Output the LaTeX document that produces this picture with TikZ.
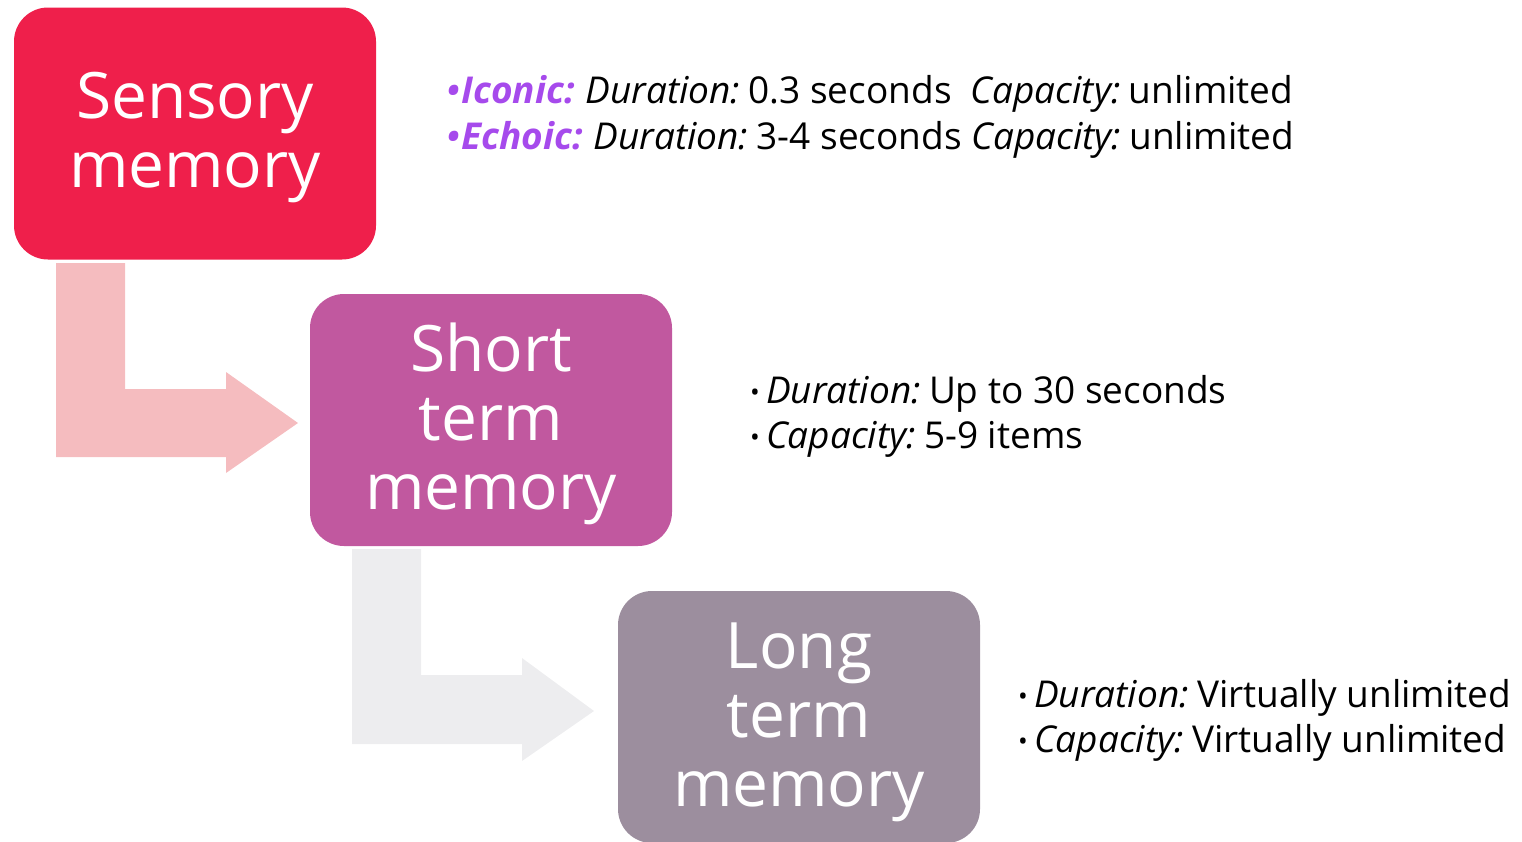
\documentclass[tikz,border=0pt]{standalone}
\usepackage{fontspec}
\setmainfont{Open Sans}
\definecolor{cRed}{HTML}{EF1F4B}
\definecolor{cMag}{HTML}{C1589F}
\definecolor{cGray}{HTML}{9C8E9E}
\definecolor{cPink}{HTML}{F5BCBF}
\definecolor{cLight}{HTML}{EDEDEF}
\definecolor{cPurple}{HTML}{A64AEC}
\begin{document}
\begin{tikzpicture}[x=1pt,y=-1pt]
\useasboundingbox (0,0) rectangle (1522,841);
\tikzset{
  membox/.style={rounded corners=34pt, minimum width=362pt,
    minimum height=252pt, inner sep=0pt},
  memtext/.style={text=white, align=center, inner sep=0pt, font=\fontsize{64}{69}\selectfont},
  info/.style={anchor=base west, inner sep=0pt, font=\fontsize{37}{46}\selectfont}
}
\newcommand{\bdot}{\raisebox{0.05em}{\scalebox{0.7}{•}}\,}
\newcommand{\pdot}{\raisebox{0.02em}{\scalebox{0.9}{•}}\hspace{0.06em}}
\newcommand{\lab}[1]{\textit{#1}\hspace{-0.12em}}
\newcommand{\plab}[1]{\textcolor{cPurple}{\textbf{\textit{\pdot#1}}}\hspace{-0.05em}}
% arrows
\fill[cPink] (56,263) -- (125,263) -- (125,389) -- (226,389) -- (226,372) -- (298,423)
  -- (226,473) -- (226,457) -- (56,457) -- cycle;
\fill[cLight] (352,549) -- (421,549) -- (421,675) -- (522,675) -- (522,658) -- (594,711)
  -- (522,761) -- (522,744) -- (352,744) -- cycle;
% boxes
\node[membox, fill=cRed] (sens) at (195,133.5) {};
\node[membox, fill=cMag] (stm) at (491,420) {};
\node[membox, fill=cGray] (ltm) at (799,717) {};
\node[memtext] (senst) at ([yshift=-4pt]sens.center) {Sensory\\memory};
\node[memtext] (stmt) at ([yshift=-4pt]stm.center) {Short\\term\\memory};
\node[memtext] (ltmt) at ([yshift=-5pt]ltm.center) {Long\\term\\memory};
% info texts
\node[info] (icon) at (447,103) {\plab{Iconic:} \lab{Duration:} 0.3 seconds\ \ \lab{Capacity:} unlimited};
\node[info] (echo) at (447,149) {\plab{Echoic:} \lab{Duration:} 3-4 seconds \lab{Capacity:} unlimited};
\node[info] (sdur) at (750,403) {\bdot\lab{Duration:} Up to 30 seconds};
\node[info] (scap) at (750,448) {\bdot\lab{Capacity:} 5-9 items};
\node[info] (ldur) at (1018,707) {\bdot\lab{Duration:} Virtually unlimited};
\node[info] (lcap) at (1018,752) {\bdot\lab{Capacity:} Virtually unlimited};
\end{tikzpicture}
\end{document}
